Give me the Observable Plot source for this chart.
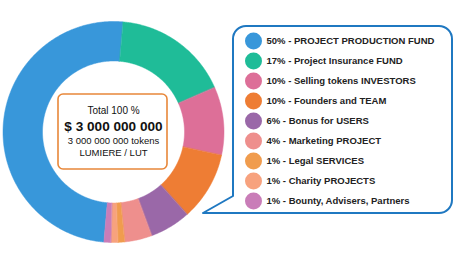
<!DOCTYPE html>
<html>
<head>
<meta charset="utf-8">
<script src="https://cdn.jsdelivr.net/npm/d3@7"></script>
<script src="https://cdn.jsdelivr.net/npm/@observablehq/plot@0.6"></script>
<style>
  body { margin: 0; background: #fff; }
  svg { display: block; }
</style>
</head>
<body>
<div id="chart"></div>
<script>
// Token allocation (percent of total supply)
const shares = [50, 17, 10, 10, 6, 4, 1, 1, 1];
const names = [
  "PROJECT PRODUCTION FUND",
  "Project Insurance FUND",
  "Selling tokens INVESTORS",
  "Founders and TEAM",
  "Bonus for USERS",
  "Marketing PROJECT",
  "Legal SERVICES",
  "Charity PROJECTS",
  "Bounty, Advisers, Partners"
];
const colors = [
  "#3897da", "#1fbc98", "#dd6f98", "#ee7d34", "#9a68a8",
  "#ee8f8d", "#f09c4e", "#f7a27e", "#c97db8"
];
const centerLines = ["Total 100 %", "$ 3 000 000 000", "3 000 000 000 tokens", "LUMIERE / LUT"];

const W = 458, H = 262;
const font = "Arial, 'Liberation Sans', Helvetica, sans-serif";

// Donut geometry
const cx = 113, cy = 131.5, rOuter = 110.5, rInner = 71;
const start = 185 * Math.PI / 180;
const arcs = d3.pie().sort(null).startAngle(start).endAngle(start + 2 * Math.PI)(shares);

const slicePts = [];
arcs.forEach((a, i) => {
  const n = Math.max(6, Math.ceil((a.endAngle - a.startAngle) / 0.01));
  const at = (r, k) => {
    const t = a.startAngle + (a.endAngle - a.startAngle) * k / n;
    return {i, color: colors[i], x: cx + r * Math.sin(t), y: cy - r * Math.cos(t)};
  };
  for (let k = 0; k <= n; k++) slicePts.push(at(rOuter, k));
  for (let k = n; k >= 0; k--) slicePts.push(at(rInner, k));
});

// Legend rows
const legend = shares.map((s, i) => ({
  color: colors[i],
  label: `${s}% - ${names[i]}`,
  y: 40.5 + 20 * i
}));

// Speech-bubble frame around the legend
function bubble(index, scales) {
  const X = scales.x, Y = scales.y;
  const l = X(233), r = X(452), t = Y(26), b = Y(213), rad = 13;
  const tipX = X(203), tailTop = Y(196);
  const p = d3.path();
  p.moveTo(l + rad, t);
  p.lineTo(r - rad, t);
  p.arcTo(r, t, r, t + rad, rad);
  p.lineTo(r, b - rad);
  p.arcTo(r, b, r - rad, b, rad);
  p.lineTo(tipX, b);
  p.lineTo(l, tailTop);
  p.lineTo(l, t + rad);
  p.arcTo(l, t, l + rad, t, rad);
  p.closePath();
  const g = d3.create("svg:g");
  g.append("path")
    .attr("d", p.toString())
    .attr("fill", "#fff")
    .attr("stroke", "#1f78c1")
    .attr("stroke-width", 2)
    .attr("stroke-linejoin", "round");
  return g.node();
}

const chart = Plot.plot({
  width: W,
  height: H,
  margin: 0,
  style: {fontFamily: font, background: "#fff"},
  x: {domain: [0, W], range: [0, W], axis: null},
  y: {domain: [0, H], range: [0, H], axis: null},
  color: {type: "identity"},
  marks: [
    Plot.line(slicePts, {x: "x", y: "y", z: "i", fill: "color", stroke: "color", strokeWidth: 0.5, curve: "linear-closed"}),
    Plot.rect([0], {x1: 58, x2: 167, y1: 94, y2: 169, rx: 5, fill: "#fff", stroke: "#e8873a", strokeWidth: 1.6}),
    Plot.text([centerLines[0]], {x: 113, y: 110, text: d => d, fontSize: 10, fill: "#111"}),
    Plot.text([centerLines[1]], {x: 113, y: 126, text: d => d, fontSize: 13.6, fontWeight: "bold", fill: "#111"}),
    Plot.text([centerLines[2]], {x: 113, y: 140.5, text: d => d, fontSize: 9.5, fill: "#111"}),
    Plot.text([centerLines[3]], {x: 113, y: 152.5, text: d => d, fontSize: 9.5, fill: "#111"}),
    bubble,
    Plot.dot(legend, {x: () => 253, y: "y", r: 8.5, fill: "color"}),
    Plot.text(legend, {x: () => 266, y: "y", text: "label", textAnchor: "start", fontSize: 9.5, fontWeight: "bold", fill: "#222"})
  ]
});
document.getElementById("chart").append(chart);
</script>
</body>
</html>
